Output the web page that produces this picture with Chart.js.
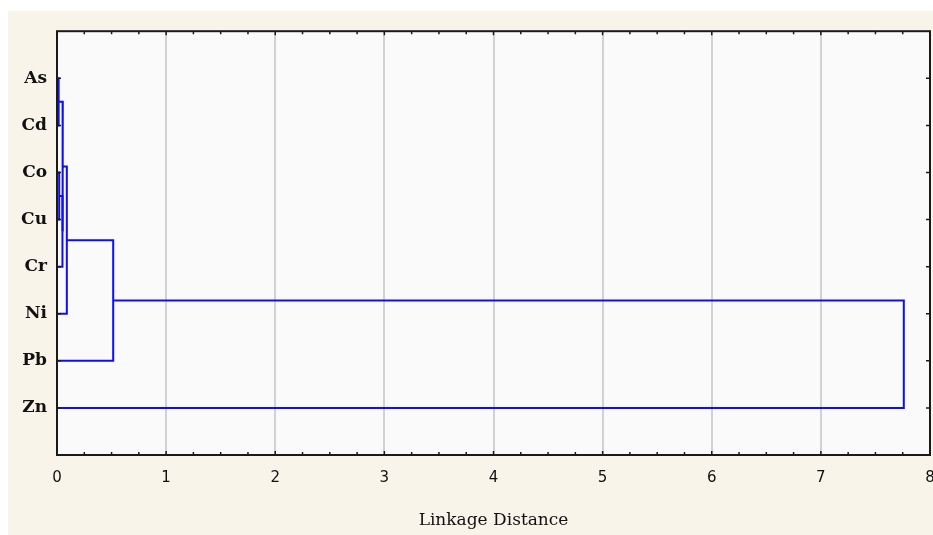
<!DOCTYPE html>
<html>
<head>
<meta charset="utf-8">
<script src="https://cdn.jsdelivr.net/npm/chart.js@4/dist/chart.umd.min.js"></script>
<style>
  html, body { margin: 0; padding: 0; background: #ffffff; }
  #wrap { position: absolute; left: 8px; top: 11px; width: 925px; height: 524px; background: #f8f4e9; }
</style>
</head>
<body>
<div id="wrap"><canvas id="myChart" width="925" height="524"></canvas></div>
<script>
// leaves, top to bottom
const leaves = ['As', 'Cd', 'Co', 'Cu', 'Cr', 'Ni', 'Pb', 'Zn']

// joins: node ids 0..7 are leaves, 8.. are clusters in the order below
const joinA = [0, 2, 9, 8, 11, 12, 13]
const joinB = [1, 3, 4, 10, 5, 6, 7]
const joinDist = [0.015, 0.02, 0.05, 0.053, 0.09, 0.515, 7.76]

const xTicks = [0, 1, 2, 3, 4, 5, 6, 7, 8]

// height and row of every node
let nodeH = []
let nodeY = []
for (let i = 0; i < leaves.length; i++) {
  nodeH.push(0)
  nodeY.push(i + 1)
}
let datasets = []
for (let m = 0; m < joinA.length; m++) {
  let a = joinA[m]
  let b = joinB[m]
  let h = joinDist[m]
  datasets.push({
    data: [
      { x: nodeH[a], y: nodeY[a] },
      { x: h, y: nodeY[a] },
      { x: h, y: nodeY[b] },
      { x: nodeH[b], y: nodeY[b] }
    ],
    showLine: true,
    borderColor: '#0c0cff',
    borderWidth: 2,
    pointRadius: 0,
    fill: false,
    tension: 0
  })
  nodeH.push(h)
  nodeY.push((nodeY[a] + nodeY[b]) / 2)
}

const frame = {
  id: 'frame',
  beforeDraw(chart) {
    let a = chart.chartArea
    let ctx = chart.ctx
    ctx.save()
    ctx.fillStyle = '#fafafa'
    ctx.fillRect(a.left, a.top, a.right - a.left, a.bottom - a.top)
    ctx.restore()
  },
  afterDraw(chart) {
    let a = chart.chartArea
    let ctx = chart.ctx
    let xs = chart.scales.x
    let ys = chart.scales.y
    ctx.save()
    ctx.strokeStyle = '#1a1a1a'
    ctx.lineWidth = 2
    ctx.strokeRect(a.left, a.top, a.right - a.left, a.bottom - a.top)
    ctx.lineWidth = 1.5
    ctx.beginPath()
    // x ticks, major and minor, inside at top and bottom
    for (let v = 0; v <= 8.001; v += 0.25) {
      let px = xs.getPixelForValue(v)
      let len = Math.abs(v - Math.round(v)) < 0.01 ? 4 : 3
      ctx.moveTo(px, a.bottom)
      ctx.lineTo(px, a.bottom - len)
      ctx.moveTo(px, a.top)
      ctx.lineTo(px, a.top + len)
    }
    // y ticks at leaves, inside at left and right
    for (let i = 0; i < leaves.length; i++) {
      let py = ys.getPixelForValue(i + 1)
      ctx.moveTo(a.left, py)
      ctx.lineTo(a.left + 4, py)
      ctx.moveTo(a.right, py)
      ctx.lineTo(a.right - 4, py)
    }
    ctx.stroke()
    ctx.restore()
  }
}

let config = {
  type: 'scatter',
  data: { datasets: datasets },
  options: {
    responsive: false,
    animation: false,
    layout: { padding: { left: 0, top: 19, right: 3, bottom: 0 } },
    plugins: {
      legend: { display: false },
      tooltip: { enabled: false }
    },
    scales: {
      x: {
        type: 'linear',
        min: 0,
        max: 8,
        afterBuildTicks: (scale) => { scale.ticks = xTicks.map(v => ({ value: v })) },
        afterFit: (scale) => {
          scale.height = 80
          scale.paddingLeft = 0
          scale.paddingRight = 0
        },
        ticks: {
          color: '#111',
          padding: 14,
          font: { family: 'DejaVu Sans', size: 15 }
        },
        grid: { color: '#d2d2d2', lineWidth: 2, drawTicks: false },
        border: { display: false },
        title: {
          display: true,
          text: 'Linkage Distance',
          color: '#111',
          padding: { top: 8 },
          font: { family: 'DejaVu Serif', size: 17 }
        }
      },
      y: {
        type: 'linear',
        min: 0,
        max: 9,
        reverse: true,
        afterBuildTicks: (scale) => {
          scale.ticks = leaves.map((l, i) => ({ value: i + 1 }))
        },
        afterFit: (scale) => { scale.width = 49 },
        ticks: {
          color: '#111',
          padding: 10,
          callback: (v) => leaves[v - 1] || '',
          font: { family: 'DejaVu Serif', size: 17, weight: 'bold' }
        },
        grid: { display: false, drawTicks: false },
        border: { display: false }
      }
    }
  },
  plugins: [frame]
}

let myChart = new Chart(document.getElementById('myChart'), config)
</script>
</body>
</html>
